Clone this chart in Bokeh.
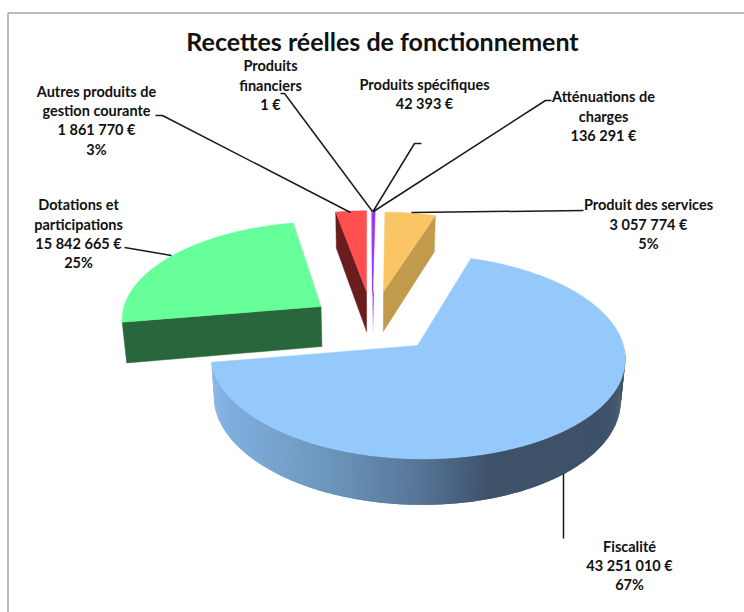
import math
from bokeh.plotting import figure
from bokeh.models import Range1d
from bokeh.core.properties import value
from bokeh.embed import file_html
from bokeh.resources import INLINE

categories = ["Fiscalité", "Dotations et participations", "Autres produits de gestion courante",
              "Produits financiers", "Produits spécifiques", "Atténuations de charges", "Produit des services"]
amounts = [43251010, 15842665, 1861770, 1, 42393, 136291, 3057774]
amount_labels = ["43 251 010 €", "15 842 665 €", "1 861 770 €", "1 €", "42 393 €", "136 291 €", "3 057 774 €"]
percent_labels = ["67%", "25%", "3%", "", "", "", "5%"]
title_text = "Recettes réelles de fonctionnement"

# ---- styles / geometry of the projection
START = 18.0
K = 0.109
VX = 372.0
BOTTOM_SCALE = 0.982
top_colors = ["#95c8fb", "#66ff99", "#ff4f4f", "#9933ff", "#9933ff", "#9933ff", "#fac564"]
side_colors = [None, "#2a663c", "#6b1c1c", None, None, None, "#c29a4b"]
# apex x, apex y, radius x, radius y, depth
geom = [
    (417, 345, 206, 101, 41),
    (320.5, 306, 197, 94, 40),
    (366, 291, 189, 89.5, 40),
    (372, 291, 189, 89.5, 40),
    (372, 291, 189, 89.5, 40),
    (372.2, 291, 189, 89.5, 40),
    (383, 291, 189, 88, 40),
]

W, H = 744, 612
p = figure(width=W, height=H, x_range=Range1d(0, W), y_range=Range1d(H, 0),
           output_backend="svg", toolbar_location=None, min_border=0)
p.axis.visible = False
p.grid.visible = False
p.outline_line_color = None
p.background_fill_color = "#ffffff"
p.border_fill_color = "#ffffff"


def proj(g, th):
    cx, cy, rx, ry, d = g
    t = math.radians(th)
    u, v = math.sin(t), -math.cos(t)
    s = 1 / (1 - K * v)
    return (cx + rx * u * s + (cx - VX) * (s - 1), cy + ry * v * s, s)


def low(g, pt):
    x, y, s = pt
    return (VX + (x - VX) * BOTTOM_SCALE, y + g[4] * s)


total = sum(amounts)
angles = []
a = START
for val in amounts:
    angles.append((a, a + val / total * 360))
    a += val / total * 360


def lerp(c1, c2, f):
    return "#%02x%02x%02x" % tuple(round(c1[i] + (c2[i] - c1[i]) * f) for i in range(3))


STOPS = [(209, (0x84, 0xb4, 0xe4)), (330, (0x6c, 0x95, 0xbc)), (420, (0x56, 0x76, 0x98)),
         (490, (0x3e, 0x52, 0x6a)), (640, (0x3e, 0x52, 0x6a))]


def wall_color(x):
    for (x0, c0), (x1, c1) in zip(STOPS, STOPS[1:]):
        if x <= x1:
            return lerp(c0, c1, max(0.0, (x - x0) / (x1 - x0)))
    return lerp(STOPS[-1][1], STOPS[-1][1], 0)


for i in [1, 2, 6, 5, 4, 3, 0]:
    g = geom[i]
    a0, a1 = angles[i]
    n = max(2, int(a1 - a0) * 2)
    ths = [a0 + (a1 - a0) * j / n for j in range(n + 1)]
    pts = [proj(g, t) for t in ths]
    apex = (g[0], g[1])
    apex_low = (VX + (g[0] - VX) * BOTTOM_SCALE, g[1] + g[4])
    if i == 0:
        # outer wall, shaded from light at the left to dark at the right (quads overlap to hide seams)
        wth = [t for t in ths if t >= 92]
        for j in range(len(wth) - 1, 0, -1):
            t0, t1 = wth[j - 1], wth[min(j + 1, len(wth) - 1)]
            q0, q1 = proj(g, t0), proj(g, t1)
            b0, b1 = low(g, q0), low(g, q1)
            col = wall_color((q0[0] + q1[0]) / 2)
            p.patch([q0[0], q1[0], b1[0], b0[0]], [q0[1], q1[1], b1[1], b0[1]],
                    fill_color=col, line_color=None)
    elif side_colors[i]:
        # the radial cut face seen from the front
        e = proj(g, a1 if i == 6 else a0)
        b_e = low(g, e)
        p.patch([apex[0], e[0], b_e[0], apex_low[0]], [apex[1], e[1], b_e[1], apex_low[1]],
                fill_color=side_colors[i], line_color=side_colors[i], line_width=0.5)
    else:
        # the hair-thin purple slices: their edge fades towards the bottom
        if i == 5:
            steps = 8
            for j in range(steps):
                f = j / steps
                p.line([g[0] + 0.5, g[0] + 0.5], [g[1] + g[4] * f, g[1] + g[4] * (f + 1 / steps)],
                       line_color=lerp((0x99, 0x33, 0xff), (0xff, 0xff, 0xff), f), line_width=1.4)
    p.patch([apex[0]] + [q[0] for q in pts], [apex[1]] + [q[1] for q in pts],
            fill_color=top_colors[i], line_color=top_colors[i], line_width=0.5)

# ---- leader lines
leaders = [
    ([155, 162, 350], [115, 115, 212]),
    ([280, 284, 372], [93, 93, 211]),
    ([421, 414, 372.5], [143, 143, 211]),
    ([551, 545, 373], [100, 100, 211]),
    ([583, 411], [210, 212]),
    ([124, 130, 171], [247, 248, 255]),
    ([563, 563], [473, 538]),
]
for xs, ys in leaders:
    p.line(xs, ys, line_color="#1a1a1a", line_width=1.5)

# ---- labels
FONT = value("Lato")
def label(x, ys, lines, size="14.5px"):
    for y, t in zip(ys, lines):
        p.text([x], [y], text=[t], text_font=FONT, text_font_size=size, text_font_style="bold",
               text_color="#111111", text_align="center", text_baseline="middle")

label(382, [40], [title_text], "25px")
label(96, [91, 110, 129, 149], ["Autres produits de", "gestion courante", amount_labels[2], percent_labels[2]])
label(270, [65, 85, 104], ["Produits", "financiers", amount_labels[3]])
label(424, [84, 103], [categories[4], amount_labels[4]])
label(603, [96, 116, 135], ["Atténuations de", "charges", amount_labels[5]])
label(648, [204, 224, 243], [categories[6], amount_labels[6], percent_labels[6]])
label(78, [204, 224, 243, 262], ["Dotations et", "participations", amount_labels[1], percent_labels[1]])
label(629, [546, 565, 584], [categories[0], amount_labels[0], percent_labels[0]])

# ---- frame of the picture
p.line([744, 7.5, 7.5], [12.5, 12.5, 612], line_color="#a6a6a6", line_width=1.5)

open("out.html", "w").write(file_html(p, INLINE))
